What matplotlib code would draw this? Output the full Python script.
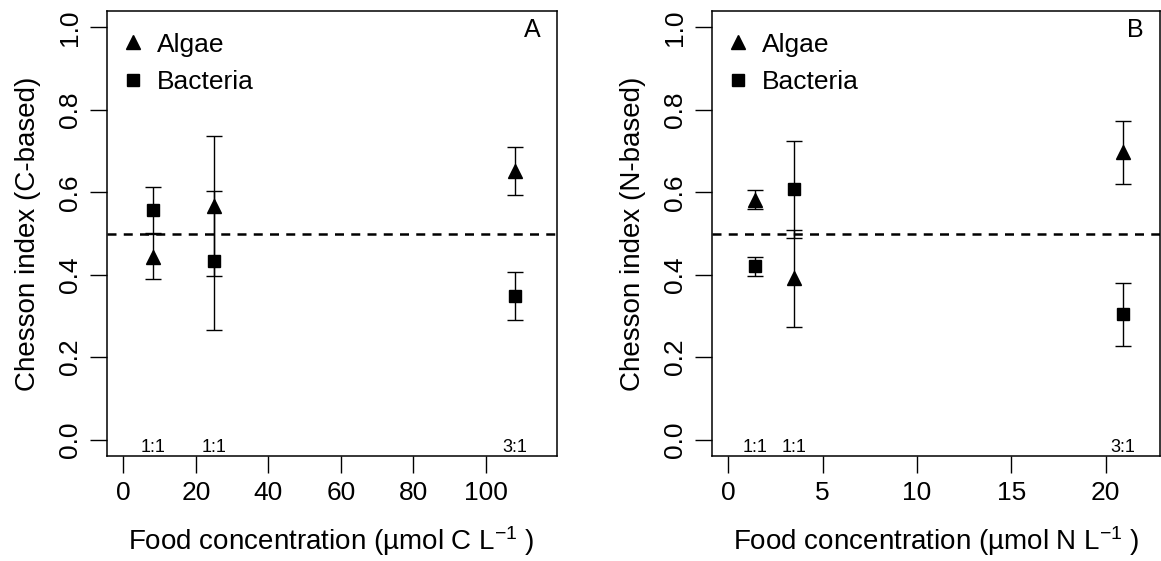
import matplotlib
matplotlib.use("Agg")
import matplotlib.pyplot as plt
from matplotlib.lines import Line2D

plt.rcParams['font.family'] = ['Liberation Sans', 'DejaVu Sans']
plt.rcParams['mathtext.fontset'] = 'custom'
plt.rcParams['mathtext.rm'] = 'Liberation Sans'
plt.rcParams['mathtext.it'] = 'Liberation Sans:italic'
plt.rcParams['mathtext.default'] = 'regular'

# ---- data ----
x_C = [8.3, 24.9, 108.0]
algae_C = [0.444, 0.567, 0.652]
bacteria_C = [0.557, 0.434, 0.348]
err_C = [0.055, 0.169, 0.058]
ratio_C = ["1:1", "1:1", "3:1"]

x_N = [1.4, 3.5, 20.9]
algae_N = [0.582, 0.391, 0.697]
bacteria_N = [0.420, 0.607, 0.304]
err_N = [0.023, 0.117, 0.077]
ratio_N = ["1:1", "1:1", "3:1"]

xticks_C = [0, 20, 40, 60, 80, 100]
xticks_N = [0, 5, 10, 15, 20]
yticks = [0.0, 0.2, 0.4, 0.6, 0.8, 1.0]

fig = plt.figure(figsize=(11.61, 5.61), dpi=100)
axA = fig.add_axes([106.7 / 1161, 1 - 456 / 561, 450 / 1161, 445 / 561])
axB = fig.add_axes([711.7 / 1161, 1 - 456 / 561, 448.3 / 1161, 445 / 561])

FS = 19


def panel(ax, x, alg, bac, err, ratios, xmax, xticks, ylabel, xlabel, letter):
    ax.axhline(0.5, color='black', lw=1.8, dashes=(3.6, 2.9), zorder=1)
    ax.errorbar(x, alg, yerr=err, fmt='none', ecolor='black', elinewidth=1.0,
                capsize=6, capthick=1.0, zorder=2)
    ax.errorbar(x, bac, yerr=err, fmt='none', ecolor='black', elinewidth=1.0,
                capsize=6, capthick=1.0, zorder=2)
    ax.plot(x, alg, linestyle='none', marker='^', ms=10, color='black', zorder=3)
    ax.plot(x, bac, linestyle='none', marker='s', ms=9, color='black', zorder=3)
    for xi, r in zip(x, ratios):
        ax.text(xi, -0.02, r, ha='center', va='center', fontsize=13)
    pad = 0.04 * xmax
    ax.set_xlim(-pad, xmax + pad)
    ax.set_ylim(-0.04, 1.04)
    ax.set_xticks(xticks)
    ax.set_xticklabels([str(t) for t in xticks])
    ax.set_yticks(yticks)
    ax.set_yticklabels([f"{t:.1f}" for t in yticks], rotation=90, va='center')
    ax.tick_params(direction='out', length=12, width=1.0, labelsize=FS, pad=6,
                   top=False, right=False)
    for s in ax.spines.values():
        s.set_linewidth(1.1)
    ax.set_xlabel(xlabel, fontsize=FS + 1, labelpad=14)
    ax.set_ylabel(ylabel, fontsize=FS + 1, labelpad=12)
    ax.text(0.945, 0.957, letter, transform=ax.transAxes, ha='center',
            va='center', fontsize=18)
    handles = [Line2D([], [], linestyle='none', marker='^', ms=10, color='black'),
               Line2D([], [], linestyle='none', marker='s', ms=9, color='black')]
    ax.legend(handles, ['Algae', 'Bacteria'], loc='upper left',
              bbox_to_anchor=(0.0, 0.984), frameon=False, fontsize=FS,
              handlelength=0.9, handletextpad=0.47, labelspacing=0.52,
              borderaxespad=0.4, borderpad=0.15)


panel(axA, x_C, algae_C, bacteria_C, err_C, ratio_C, 115, xticks_C,
      'Chesson index (C-based)', r'Food concentration (µmol C L$^{-1}$ )', 'A')
panel(axB, x_N, algae_N, bacteria_N, err_N, ratio_N, 22, xticks_N,
      'Chesson index (N-based)', r'Food concentration (µmol N L$^{-1}$ )', 'B')

fig.savefig('out.png', dpi=100)
